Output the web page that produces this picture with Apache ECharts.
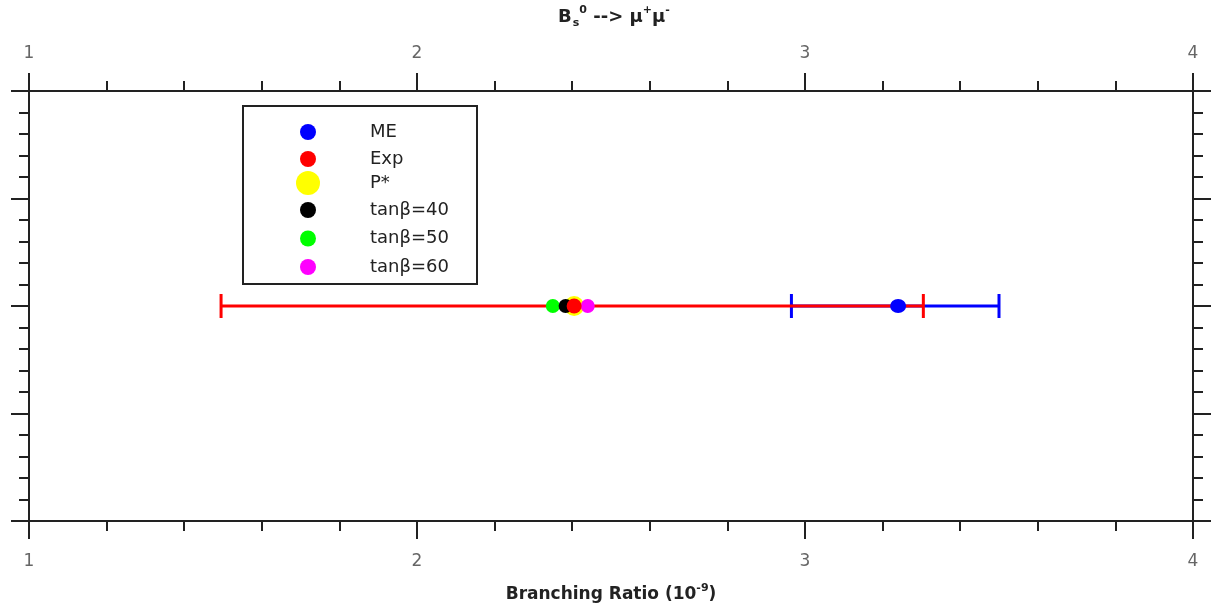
<!DOCTYPE html>
<html>
<head>
<meta charset="utf-8">
<script src="https://cdn.jsdelivr.net/npm/echarts@6/dist/echarts.min.js"></script>
<style>
  html, body { margin: 0; padding: 0; background: #fff; }
  #chart { width: 1225px; height: 609px; }
</style>
</head>
<body>
<div id="chart"></div>
<script>
// data (x = branching ratio in 1e-9, y = row position)
const rowY = 2;
const xTicks = [1, 2, 3, 4];
const seriesNames = ["ME", "Exp", "P*", "tanβ=40", "tanβ=50", "tanβ=60"];
const seriesColors = ["#0000ff", "#ff0000", "#ffff00", "#000000", "#00ff00", "#ff00ff"];
const centralValues = [3.24, 2.405, 2.405, 2.383, 2.35, 2.44];
// error bars: [low, high]
const meRange = [2.965, 3.5];
const expRange = [1.495, 3.305];

const font = "DejaVu Sans, sans-serif";

let myChart = echarts.init(document.getElementById("chart"));

function errorBar(name, range, color, z) {
  return {
    name: name + " err",
    type: "custom",
    z: z,
    silent: true,
    encode: { x: [1, 2], y: 0 },
    data: [[rowY, range[0], range[1]]],
    renderItem: function (params, api) {
      let y = api.value(0);
      let a = api.coord([api.value(1), y]);
      let b = api.coord([api.value(2), y]);
      let cap = 12;
      let st = { stroke: color, lineWidth: 3 };
      return {
        type: "group",
        children: [
          { type: "line", shape: { x1: a[0], y1: a[1], x2: b[0], y2: b[1] }, style: st },
          { type: "line", shape: { x1: a[0], y1: a[1] - cap, x2: a[0], y2: a[1] + cap }, style: st },
          { type: "line", shape: { x1: b[0], y1: b[1] - cap, x2: b[0], y2: b[1] + cap }, style: st },
        ],
      };
    },
  };
}

// z order of markers: yellow under, red on top
const markerZ = [7, 9, 3, 5, 4, 6];
const markerSize = [[16, 14], 15, 20, 14, 14, 14];

let scatterSeries = seriesNames.map(function (n, i) {
  return {
    name: n,
    type: "scatter",
    z: markerZ[i],
    symbol: "circle",
    symbolSize: markerSize[i],
    itemStyle: { color: seriesColors[i], opacity: 1 },
    data: [[centralValues[i], rowY]],
  };
});

const axisCommon = {
  type: "value",
  interval: 1,
  axisLine: { show: true, onZero: false, lineStyle: { color: "#222", width: 2 } },
  axisTick: { show: true, inside: false, length: 18, lineStyle: { color: "#222", width: 2 } },
  minorTick: { show: true, splitNumber: 5, length: 10, lineStyle: { color: "#222", width: 2 } },
  splitLine: { show: false },
  minorSplitLine: { show: false },
};

const legendText = {
  color: "#222",
  fontSize: 18,
  fontFamily: font,
  lineHeight: 16,
};

const supStyle = { fontSize: 11, fontWeight: "bold", color: "#222", fontFamily: font, verticalAlign: "top", lineHeight: 24, padding: [0, 0, 7, 0] };

let option = {
  animation: false,
  backgroundColor: "#fff",
  title: {
    text: "B{sub|s}{sup|0} --> μ{sup|+}μ{sup|-}",
    left: 553,
    top: 0,
    textStyle: {
      fontSize: 18,
      fontWeight: "bold",
      color: "#222",
      fontFamily: font,
      lineHeight: 24,
      rich: {
        sub: { fontSize: 11, fontWeight: "bold", color: "#222", fontFamily: font, verticalAlign: "bottom", lineHeight: 24, padding: [9, 0, 0, 1] },
        sup: supStyle,
      },
    },
  },
  grid: { left: 29, right: 32, top: 91, bottom: 88, outerBoundsMode: "none" },
  xAxis: [
    Object.assign({}, axisCommon, {
      position: "bottom",
      min: xTicks[0],
      max: xTicks[xTicks.length - 1],
      axisLabel: { color: "#666", fontSize: 17, fontFamily: font, margin: 32 },
      name: "Branching Ratio (10{sup|-9})",
      nameLocation: "middle",
      nameGap: 62,
      nameTextStyle: {
        fontSize: 17,
        fontWeight: "bold",
        color: "#222",
        fontFamily: font,
        lineHeight: 24,
        rich: { sup: supStyle },
      },
    }),
    Object.assign({}, axisCommon, {
      position: "top",
      min: xTicks[0],
      max: xTicks[xTicks.length - 1],
      axisLabel: { color: "#666", fontSize: 17, fontFamily: font, margin: 29 },
    }),
  ],
  yAxis: [
    Object.assign({}, axisCommon, { position: "left", min: 0, max: 4, axisLabel: { show: false } }),
    Object.assign({}, axisCommon, { position: "right", min: 0, max: 4, axisLabel: { show: false } }),
  ],
  legend: [
    {
      data: ["ME", "Exp"],
      orient: "vertical",
      left: 300,
      top: 123,
      padding: 0,
      itemGap: 9,
      itemWidth: 16,
      itemHeight: 16,
      icon: "circle",
      selectedMode: false,
      textStyle: Object.assign({ padding: [0, 0, 0, 49] }, legendText),
    },
    {
      data: ["P*"],
      orient: "vertical",
      left: 296,
      top: 171,
      padding: 0,
      itemWidth: 24,
      itemHeight: 24,
      icon: "circle",
      selectedMode: false,
      textStyle: Object.assign({ padding: [0, 0, 0, 45] }, legendText),
    },
    {
      data: ["tanβ=40", "tanβ=50", "tanβ=60"],
      orient: "vertical",
      left: 300,
      top: 201,
      padding: 0,
      itemGap: 10.5,
      itemWidth: 16,
      itemHeight: 16,
      icon: "circle",
      selectedMode: false,
      textStyle: Object.assign({ padding: [0, 0, 0, 49] }, legendText),
    },
  ],
  graphic: [
    {
      type: "rect",
      z: 1,
      shape: { x: 243, y: 106, width: 234, height: 178 },
      style: { fill: "#fff", stroke: "#222", lineWidth: 2 },
    },
  ],
  series: [errorBar("ME", meRange, "#0000ff", 1), errorBar("Exp", expRange, "#ff0000", 2)].concat(scatterSeries),
};

myChart.setOption(option);
</script>
</body>
</html>
